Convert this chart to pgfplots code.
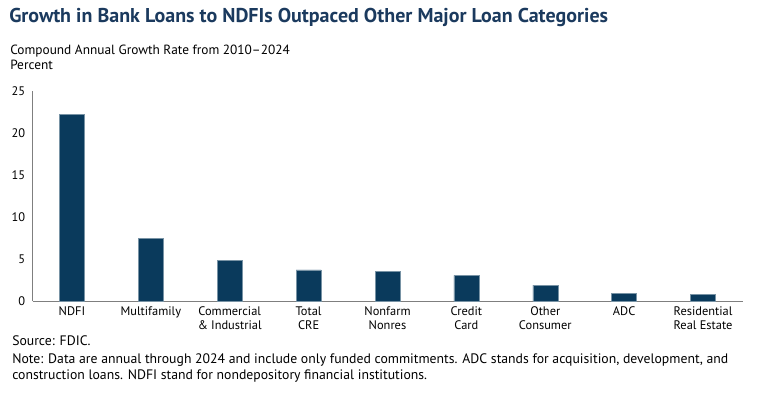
\documentclass[border=0pt]{standalone}
\usepackage{fontspec}
\setmainfont{PT Sans}
\usepackage{pgfplots}
\pgfplotsset{compat=1.18}
\definecolor{barc}{HTML}{0A3A5C}
\definecolor{ttl}{HTML}{1B3A5E}
\definecolor{axc}{HTML}{7F7F7F}
\begin{document}
\begin{tikzpicture}[x=0.75pt,y=0.75pt]
\path[use as bounding box] (0,0) rectangle (760,394);
\node[anchor=base west, inner sep=0, text=ttl, font=\fontsize{15}{18}\selectfont\bfseries] at (9,371.3) {Growth in Bank Loans to NDFIs Outpaced Other Major Loan Categories};
\node[anchor=base west, inner sep=0, font=\fontsize{10}{12}\selectfont] at (10,339.5) {Compound Annual Growth Rate from 2010--2024};
\node[anchor=base west, inner sep=0, font=\fontsize{10}{12}\selectfont] at (10,324.5) {Percent};
\node[anchor=base west, inner sep=0, font=\fontsize{10.3}{12}\selectfont] at (12,49) {Source: FDIC.};
\node[anchor=base west, inner sep=0, font=\fontsize{10.3}{12}\selectfont] at (12,30.7) {Note: Data are annual through 2024 and include only funded commitments. ADC stands for acquisition, development, and};
\node[anchor=base west, inner sep=0, font=\fontsize{10.3}{12}\selectfont] at (12,14.7) {construction loans. NDFI stand for nondepository financial institutions.};
\begin{axis}[
  at={(24.375pt,69.75pt)}, anchor=south west,
  scale only axis, width=532.5pt, height=157.5pt,
  xmin=-0.5, xmax=8.5, ymin=0, ymax=25,
  ytick={0,5,10,15,20,25},
  xtick=data,
  xticklabels={NDFI, Multifamily, Commercial\\\& Industrial, Total\\CRE, Nonfarm\\Nonres, Credit\\Card, Other\\Consumer, ADC, Residential\\Real Estate},
  x tick label style={align=center, font=\fontsize{9.3}{10}\selectfont, yshift=-1pt},
  y tick label style={font=\fontsize{9.3}{10}\selectfont, xshift=-2pt},
  /pgf/number format/assume math mode=true,
  axis x line=bottom, axis y line=left,
  axis line style={axc, -, line width=0.6pt},
  major tick length=0pt,
  tick style={draw=none},
  clip=false,
]
\addplot[ybar, bar width=18.75pt, fill=barc, draw=barc!55!white, line width=0.4pt] coordinates {
(0,22.2) (1,7.5) (2,4.8) (3,3.7) (4,3.55) (5,3.05) (6,1.9) (7,0.95) (8,0.82)
};
\end{axis}
\end{tikzpicture}
\end{document}
